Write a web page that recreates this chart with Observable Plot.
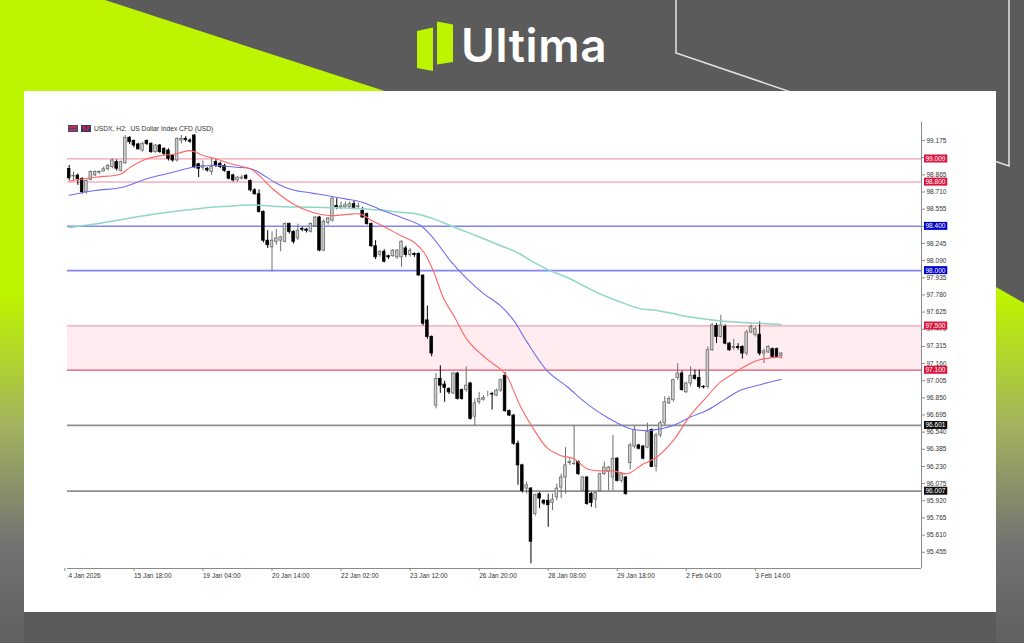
<!DOCTYPE html>
<html><head><meta charset="utf-8">
<script src="https://cdn.jsdelivr.net/npm/d3@7"></script>
<script src="https://cdn.jsdelivr.net/npm/@observablehq/plot@0.6"></script>
<style>
html,body{margin:0;padding:0;width:1024px;height:643px;overflow:hidden;background:#5b5b5b;}
#bg{position:absolute;left:0;top:0;}
#logo{position:absolute;left:461px;top:22px;font-family:Inter,"Open Sans",sans-serif;font-weight:600;font-size:46px;line-height:46px;color:#fff;letter-spacing:0.6px;}
#card{position:absolute;left:24px;top:91px;width:972px;height:521px;background:#fff;}
#chart{position:absolute;left:0;top:0;}
#title{position:absolute;left:44px;top:33px;height:9px;display:flex;align-items:center;gap:3px;font-family:"Liberation Sans",Arial,sans-serif;font-size:6.7px;color:#333;white-space:pre;}
</style></head>
<body>
<svg id="bg" width="1024" height="643">
  <defs>
    <linearGradient id="lime" x1="0" y1="0" x2="0" y2="643" gradientUnits="userSpaceOnUse">
      <stop offset="0" stop-color="#bdf400"/>
      <stop offset="0.46" stop-color="#bdf400"/>
      <stop offset="0.66" stop-color="#a3b35e"/>
      <stop offset="0.85" stop-color="#727272"/>
      <stop offset="1" stop-color="#606060"/>
    </linearGradient>
  </defs>
  <polygon points="0,0 105,0 400,96 24,96 24,643 0,643" fill="url(#lime)"/>
  <polygon points="996,287 1024,303 1024,643 996,643" fill="url(#lime)"/>
  <polyline points="676,0 676,53 1009,166 1009,0" fill="none" stroke="#e4e4e4" stroke-width="1.5"/>
  <polygon points="417,31 433,27.5 433,71 417,68" fill="#bdf400"/>
  <polygon points="437,21.5 453,24.5 453,62 437,64.5" fill="#bdf400"/>
</svg>
<div id="logo">Ultima</div>
<div id="card">
  <div id="chart"></div>
  <div id="title"><svg width="10" height="7"><rect x="0" y="0" width="10" height="7" fill="#3a4a8a"/><rect x="1" y="1" width="8" height="2" fill="#c0303a"/><rect x="1" y="4" width="8" height="2" fill="#c0303a"/></svg><svg width="10" height="7"><rect x="0" y="0" width="10" height="7" fill="#2a3a7a"/><polygon points="1,1 4,1 5,6 3,6" fill="#d0202a"/><polygon points="6,1 9,1 7,6 6,6" fill="#d0202a"/></svg><span>USDX, H2:  US Dollar Index CFD (USD)</span></div>
</div>
<script>
// ---- candle data (H2 bars, index = bar number) ----
const opens = [98.918,98.85,98.858,98.828,98.71,98.82,98.86,98.885,98.895,98.915,98.935,98.98,98.90,98.97,99.20,99.17,99.14,99.085,99.17,99.145,99.07,99.13,99.10,99.085,99.04,98.995,99.175,99.19,99.175,99.22,98.96,98.93,98.92,98.89,98.98,98.965,98.945,98.89,98.86,98.815,98.83,98.855,98.81,98.725,98.69,98.53,98.27,98.21,98.26,98.27,98.26,98.42,98.35,98.29,98.375,98.37,98.35,98.40,98.48,98.18,98.43,98.45,98.585,98.57,98.575,98.575,98.60,98.575,98.54,98.51,98.42,98.22,98.14,98.17,98.13,98.13,98.12,98.12,98.20,98.14,98.15,98.15,97.955,97.55,97.40,96.78,97.02,96.97,96.93,96.89,97.07,96.92,96.92,96.98,96.68,96.81,96.83,96.885,96.885,96.87,96.915,97.05,96.73,96.69,96.435,96.24,96.03,96.03,95.80,95.98,95.92,95.92,95.90,95.95,96.04,96.13,96.26,96.25,96.27,96.01,96.13,95.98,95.93,96.01,96.16,96.18,96.13,96.30,96.10,96.13,96.26,96.41,96.42,96.41,96.40,96.56,96.23,96.51,96.62,96.80,96.83,97.03,97.07,96.90,96.98,97.05,97.03,96.95,96.95,97.28,97.50,97.40,97.49,97.34,97.30,97.31,97.31,97.25,97.44,97.42,97.42,97.25,97.26,97.29,97.29,97.23];
const highs = [98.95,98.89,98.873,98.84,98.82,98.90,98.90,98.90,98.935,98.96,99.01,99.00,98.99,99.22,99.21,99.18,99.15,99.16,99.18,99.155,99.14,99.14,99.11,99.10,99.05,99.20,99.22,99.21,99.19,99.23,98.97,98.99,98.93,99.01,99.00,98.98,98.96,98.90,98.87,98.85,98.86,98.87,98.82,98.74,98.73,98.54,98.36,98.35,98.37,98.31,98.43,98.43,98.36,98.42,98.39,98.38,98.43,98.49,98.49,98.46,98.48,98.665,98.65,98.62,98.62,98.62,98.63,98.61,98.57,98.52,98.43,98.27,98.18,98.19,98.14,98.19,98.19,98.27,98.22,98.20,98.16,98.16,97.96,97.68,97.41,97.07,97.14,97.00,96.94,97.08,97.08,96.93,97.13,96.99,96.84,96.90,96.87,96.91,96.90,96.93,97.02,97.08,96.74,96.70,96.46,96.25,96.09,96.04,95.98,95.995,95.93,95.98,95.98,96.07,96.16,96.40,96.30,96.60,96.28,96.14,96.14,95.995,96.00,96.17,96.27,96.23,96.51,96.31,96.17,96.14,96.44,96.59,96.43,96.42,96.62,96.57,96.53,96.64,96.86,96.86,97.02,97.16,97.09,96.99,97.13,97.10,97.10,96.96,97.31,97.52,97.52,97.595,97.51,97.35,97.38,97.34,97.32,97.46,97.51,97.49,97.535,97.29,97.32,97.30,97.30,97.26];
const lows = [98.813,98.81,98.77,98.69,98.69,98.81,98.85,98.87,98.89,98.90,98.92,98.90,98.89,98.96,99.14,99.11,99.09,99.07,99.13,99.06,99.06,99.06,99.04,98.99,98.98,98.98,99.145,99.16,99.15,98.92,98.84,98.90,98.89,98.86,98.93,98.92,98.89,98.82,98.80,98.80,98.82,98.82,98.71,98.68,98.52,98.25,98.20,97.99,98.23,98.17,98.25,98.33,98.24,98.27,98.35,98.34,98.34,98.39,98.17,98.17,98.41,98.44,98.55,98.55,98.56,98.56,98.55,98.55,98.47,98.41,98.21,98.10,98.12,98.07,98.10,98.12,98.10,98.03,98.12,98.12,98.12,97.95,97.50,97.38,97.22,96.75,96.89,96.81,96.88,96.88,96.83,96.83,96.90,96.65,96.60,96.79,96.82,96.86,96.74,96.86,96.90,96.72,96.68,96.42,96.06,95.99,95.98,95.35,95.78,95.85,95.88,95.68,95.83,95.92,95.94,95.98,96.24,96.24,96.15,96.00,95.88,95.86,95.85,96.00,96.15,96.01,96.01,96.09,96.08,95.97,96.20,96.39,96.38,96.29,96.39,96.22,96.18,96.49,96.60,96.79,96.81,97.01,96.91,96.89,96.95,97.01,96.93,96.93,96.93,97.27,97.34,97.39,97.33,97.27,97.28,97.28,97.20,97.23,97.43,97.40,97.23,97.16,97.25,97.21,97.21,97.20];
const closes = [98.834,98.855,98.828,98.708,98.81,98.89,98.89,98.89,98.915,98.945,98.995,98.92,98.98,99.20,99.16,99.13,99.095,99.145,99.145,99.07,99.13,99.07,99.055,99.01,98.995,99.19,99.19,99.18,99.165,98.935,98.92,98.945,98.905,98.935,98.95,98.935,98.90,98.83,98.815,98.84,98.84,98.83,98.725,98.69,98.53,98.27,98.23,98.27,98.29,98.30,98.42,98.35,98.26,98.36,98.37,98.36,98.42,98.48,98.18,98.44,98.47,98.65,98.57,98.58,98.59,98.60,98.56,98.58,98.48,98.42,98.22,98.12,98.17,98.08,98.12,98.18,98.18,98.26,98.14,98.18,98.14,97.955,97.52,97.40,97.25,97.02,96.96,96.94,96.90,97.07,96.84,96.84,96.96,96.66,96.80,96.84,96.85,96.885,96.88,96.915,97.01,96.73,96.69,96.435,96.24,96.01,96.06,95.55,95.97,95.94,95.895,95.88,95.93,96.03,96.13,96.24,96.27,96.255,96.16,96.13,95.89,95.90,95.99,96.16,96.22,96.22,96.30,96.10,96.16,95.98,96.42,96.56,96.39,96.30,96.54,96.225,96.51,96.62,96.81,96.84,97.01,97.07,96.92,96.98,97.05,97.02,96.95,96.945,97.28,97.505,97.40,97.505,97.34,97.28,97.31,97.30,97.25,97.44,97.49,97.47,97.25,97.27,97.31,97.22,97.22,97.25];

// ---- moving averages: [bar, value] ----
const maFast = [[0,98.81],[6,98.843],[12,98.873],[14,98.93],[18,99.01],[21.6,99.04],[24.7,99.054],[28,99.084],[31,99.04],[34,99.01],[37,98.97],[40,98.94],[42,98.92],[44,98.86],[47.4,98.73],[52,98.6],[56.3,98.527],[60.2,98.497],[64,98.506],[67.5,98.51],[70.2,98.45],[73.3,98.39],[76.8,98.317],[79.9,98.256],[82.2,98.166],[84.5,97.985],[86.8,97.745],[89.1,97.594],[92.5,97.36],[96.8,97.2],[99.9,97.11],[101.5,97.04],[104.6,96.77],[107.6,96.57],[110.7,96.40],[113.8,96.33],[116.9,96.30],[120,96.21],[123,96.19],[126.2,96.19],[129.3,96.164],[133.1,96.254],[136.2,96.315],[140,96.465],[143.9,96.69],[147.7,96.857],[150.9,96.992],[153.2,97.052],[156.3,97.128],[159.4,97.188],[165,97.22]];
const maMid = [[0,98.68],[6,98.723],[12.4,98.753],[17.8,98.828],[24,98.888],[28.6,98.934],[33.2,98.949],[38.6,98.934],[42.2,98.918],[44.3,98.88],[48,98.79],[51.7,98.73],[56.3,98.70],[64,98.648],[67.9,98.618],[71.8,98.557],[76.8,98.482],[81.4,98.407],[84.5,98.287],[88.3,98.09],[92.2,97.925],[96.1,97.79],[99.9,97.684],[103,97.55],[106,97.36],[110.7,97.097],[115.4,96.95],[120,96.796],[124.6,96.675],[130,96.57],[134.7,96.556],[140,96.6],[143.9,96.676],[147.7,96.736],[151.6,96.827],[155.4,96.917],[159.4,96.962],[165,97.015]];
const maSlow = [[0,98.39],[6,98.42],[13.9,98.473],[21.6,98.52],[29.3,98.557],[35.5,98.578],[42.2,98.593],[48.6,98.578],[56.3,98.572],[64,98.566],[71.8,98.548],[76.8,98.527],[80.6,98.512],[84.5,98.467],[88.3,98.407],[92.2,98.347],[96.1,98.287],[99.9,98.226],[103.7,98.166],[107.6,98.076],[111.4,98.0],[115.3,97.94],[119.1,97.865],[123,97.79],[126.8,97.73],[132.4,97.654],[136.2,97.64],[143.9,97.58],[151.6,97.543],[159.4,97.525],[165,97.513]];

// ---- horizontal levels ----
const levelValues = [99.009, 98.800, 98.400, 98.000, 97.500, 97.100, 96.601, 96.007];
const levelKinds  = ["resist","resist","round","round","zone","zone","support","support"];
const zoneLow = 97.100, zoneHigh = 97.500;

// ---- axes ----
const yTicks = [99.175,99.020,98.865,98.710,98.555,98.400,98.245,98.090,97.935,97.780,97.625,97.470,97.315,97.160,97.005,96.850,96.695,96.540,96.385,96.230,96.075,95.920,95.765,95.610,95.455];
const xTickBars = [-1,15,31,47,63,79,95,111,127,143,159];
const xTickLabels = ["14 Jan 2026","15 Jan 18:00","19 Jan 04:00","20 Jan 14:00","22 Jan 02:00","23 Jan 12:00","26 Jan 20:00","28 Jan 08:00","29 Jan 18:00","2 Feb 04:00","3 Feb 14:00"];

// ---- build ----
const bars = opens.map((o, i) => ({i, o, h: highs[i], l: lows[i], c: closes[i], up: closes[i] >= o}));
const toPts = arr => arr.map(([i, v]) => ({i, v}));
const xDomain = [-0.39, 197.5];
const yDomain = [95.308, 99.338];
const lineColor = {resist: "#ec8a9c", round: "#8484ee", zone: "#f0a3b2", support: "#8e8e8e"};
const lineWidth = {resist: 1, round: 1.6, zone: 1.3, support: 1.6};
const boxColor = {resist: "#dc143c", round: "#0000cd", zone: "#dc143c", support: "#111111"};
const levels = levelValues.map((v, k) => ({v, kind: levelKinds[k]}));
levels[5].lineColor = "#e2506b";
const fmt = d3.format(".3f");
const labelMap = new Map(xTickBars.map((b, k) => [b, xTickLabels[k]]));

const W = 972, H = 521, ML = 43, MR = 75, MT = 31, MB = 44;

const plot = Plot.plot({
  width: W, height: H,
  marginLeft: ML, marginRight: MR, marginTop: MT, marginBottom: MB,
  style: {fontFamily: "Liberation Sans, Arial, sans-serif", fontSize: "6.5px", color: "#333", background: "transparent", overflow: "visible"},
  x: {type: "linear", domain: xDomain, axis: null, label: null},
  y: {type: "linear", domain: yDomain, axis: null, label: null},
  marks: [
    Plot.rect([{y1: zoneLow, y2: zoneHigh}], {x1: () => xDomain[0], x2: () => xDomain[1], y1: "y1", y2: "y2", fill: "#ffecf0"}),
    Plot.ruleY(levels, {y: "v", stroke: d => d.lineColor || lineColor[d.kind], strokeWidth: d => lineWidth[d.kind]}),
    Plot.ruleX(bars, {x: "i", y1: "l", y2: "h", stroke: d => d.up ? "#6e6e6e" : "#000", strokeWidth: 1}),
    Plot.rect(bars, {x1: d => d.i - 0.3, x2: d => d.i + 0.3, y1: "o", y2: "c",
      fill: d => d.up ? "#cfcfcf" : "#000", stroke: d => d.up ? "#6e6e6e" : "#000", strokeWidth: 0.8}),
    Plot.line(toPts(maSlow), {x: "i", y: "v", stroke: "#8fd6c6", strokeWidth: 1.5, curve: "catmull-rom"}),
    Plot.line(toPts(maMid), {x: "i", y: "v", stroke: "#6f6fee", strokeWidth: 1.1, curve: "catmull-rom"}),
    Plot.line(toPts(maFast), {x: "i", y: "v", stroke: "#ff6666", strokeWidth: 1.1, curve: "catmull-rom"}),
    Plot.ruleY([yDomain[0]], {stroke: "#8a8a8a", strokeWidth: 1}),
    Plot.ruleX([xDomain[1]], {stroke: "#8a8a8a", strokeWidth: 1}),
    Plot.axisY({anchor: "right", ticks: yTicks, tickFormat: fmt, tickSize: 3, tickPadding: 2, stroke: "#8a8a8a", fill: "#333", label: null}),
    Plot.axisX({anchor: "bottom", ticks: xTickBars, tickFormat: d => labelMap.get(d), tickSize: 3, tickPadding: 2, textAnchor: "start", stroke: "#8a8a8a", fill: "#333", label: null}),
    Plot.text(levels, {y: "v", text: d => fmt(d.v), frameAnchor: "right", dx: 4, textAnchor: "start", fill: "#fff", className: "lvl"})
  ]
});
document.getElementById("chart").appendChild(plot);

// clip truncated first date label at the chart's left edge
const svg = d3.select(plot);
svg.append("defs").append("clipPath").attr("id", "xclip").append("rect")
  .attr("x", ML).attr("y", 0).attr("width", W).attr("height", H);
svg.selectAll('g[aria-label="x-axis tick label"]').attr("clip-path", "url(#xclip)");

// coloured price boxes behind level labels
svg.selectAll("g.lvl text").each(function(_, k) {
  const d = levels[k];
  const b = this.getBBox();
  const r = document.createElementNS("http://www.w3.org/2000/svg", "rect");
  r.setAttribute("x", b.x - 1.5);
  r.setAttribute("y", b.y - 0.5);
  r.setAttribute("width", b.width + 3);
  r.setAttribute("height", b.height + 1);
  r.setAttribute("fill", boxColor[d.kind]);
  const t = this.getAttribute("transform");
  if (t) r.setAttribute("transform", t);
  this.parentNode.insertBefore(r, this);
});
</script>
</body></html>
